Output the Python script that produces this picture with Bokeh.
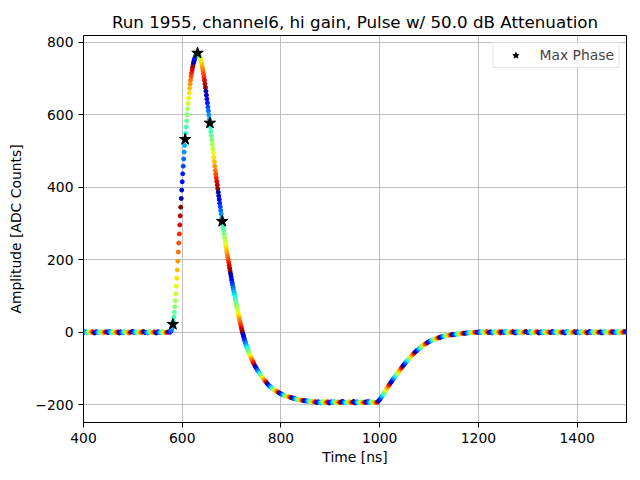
import numpy as np
from bokeh.embed import file_html
from bokeh.models import FixedTicker, Legend, LegendItem
from bokeh.plotting import figure
from bokeh.resources import INLINE

TITLE = "Run 1955, channel6, hi gain, Pulse w/ 50.0 dB Attenuation"
FONT = "DejaVu Sans"

# baseline before the pulse, 2.5 ns steps, ends at 572.5 ns
baseline_pre = [
    1, 0, -1, 2, 1, -2, 0, 1, -1, 2,
    0, -2, 1, 1, -1, 0, 2, -1, -2, 1,
    0, 1, -1, 2, 1, -2, 0, 2, -1, 0,
    1, -2, 1, 0, -1, 2, 0, -1, 1, -2,
    0, 1, 2, -1, 0, 1, -2, 1, 0, -1,
    2, 1, -1, 0, -2, 1, 2, 0, -1, 1,
    0, -2, 1, 1, -1, 0, 2, -1, 0, -1,
    0, 1,
]

# leading edge, 1 ns steps from 575 ns to the peak at 631 ns
rise_adc = [
    0, 1, 3, 6, 10, 15, 22, 31, 42, 55,
    70, 87, 106, 127, 149, 172, 196, 221, 246, 271,
    296, 321, 345, 369, 392, 415, 437, 458, 478, 497,
    515, 532, 549, 566, 583, 600, 616, 631, 646, 660,
    673, 685, 696, 706, 715, 723, 731, 738, 744, 749,
    754, 758, 762, 765, 767, 769, 770,
]

# trailing edge, 1 ns steps from 632 ns to 744 ns
fall_adc = [
    770, 769, 767, 764, 760, 755, 749, 743, 736, 729,
    721, 713, 704, 695, 685, 675, 665, 654, 643, 632,
    621, 610, 599, 588, 577, 566, 554, 542, 530, 518,
    506, 494, 482, 470, 458, 446, 436, 426, 416, 406,
    396, 386, 376, 366, 356, 346, 336, 326, 316, 306,
    297, 288, 279, 270, 261, 252, 243, 234, 225, 217,
    209, 201, 193, 185, 177, 169, 161, 153, 145, 138,
    131, 124, 117, 110, 103, 96, 89, 82, 75, 68,
    61, 54, 47, 41, 35, 29, 23, 17, 11, 5,
    0, -5, -10, -15, -20, -25, -29, -33, -37, -41,
    -45, -49, -53, -57, -60, -63, -66, -69, -72, -75,
    -78, -81, -84,
]

# everything after, 2.5 ns steps from 745 ns
undershoot_adc = [
    -87, -93, -99, -105, -110, -115, -120, -125, -130, -134,
    -138, -142, -146, -149, -152, -155, -158, -160, -162, -164,
    -166, -168, -170, -172, -173, -175, -176, -177, -178, -179,
    -180, -181, -182, -183, -184, -185, -186, -186, -187, -188,
    -188, -189, -189, -190, -190, -190, -191,
]
bottom_adc = [
    -192, -191, -193, -192, -194, -192, -193, -195, -192, -193,
    -191, -194, -193, -192, -195, -193, -192, -194, -191, -193,
    -195, -192, -193, -194, -192, -191, -194, -193, -195, -192,
    -193, -192, -194, -193, -191, -195, -193, -192, -194, -193,
    -192, -195, -193, -194, -192, -193, -191, -194, -193, -192,
    -195, -193, -194,
]
recovery_adc = [
    -193, -190, -186, -181, -176, -171, -165, -160, -154, -149,
    -144, -139, -134, -129, -124, -119, -115, -110, -106, -101,
    -97, -92, -88, -84, -80, -76, -72, -68, -64, -61,
    -57, -54, -51, -48, -45, -42, -39, -37, -34, -32,
    -30, -28, -26, -24, -23, -21, -20, -19, -17, -16,
    -15, -14, -13, -12, -11, -10, -10, -9, -8, -8,
    -7, -7, -6, -6, -5, -5, -4, -4, -4, -3,
    -3, -3, -2, -2, -2, -1, -1, -1, -1, 0,
    0, 0,
]
baseline_post = [
    0, 1, -1, 2, 0, -2, 1, 2, -1, 0,
    1, -2, 0, 2, 1, -1, 0, 2, -2, 1,
    0, -1, 2, 1, -2, 0, 1, -1, 2, 0,
    -2, 1, 0, 2, -1, 1, -2, 0, 2, 1,
    -1, 0, 2, -2, 1, 0, -1, 2, 1, -2,
    0, 1, -1, 2, 0, -2, 1, 1, -1, 0,
    2, -1, 0, 1, -2, 2, 0, -1, 1, 0,
    -2, 1, 2, 0, -1, 1, -2, 0, 2, -1,
    1, 0, -2, 2, 1, -1, 0, 1, -2, 0,
    2, -1, 1, 0, -2, 1, 2, -1, 0, 1,
    -2, 0, 1, 2, -1, 0, 1, -2, 2, 0,
    1, -1, 0, 2, -2, 1, 0, -1, 2, 1,
    0, -2,
]

# samples of the phase with the largest amplitude
max_t = [581, 606, 631, 656, 681]
max_adc = [22, 532, 770, 577, 306]

x_ticks = [400, 600, 800, 1000, 1200, 1400]
y_ticks = [-200, 0, 200, 400, 600, 800]


def jet(v):
    r = np.interp(v, [0, 0.35, 0.66, 0.89, 1], [0, 0, 1, 1, 0.5])
    g = np.interp(v, [0, 0.125, 0.375, 0.64, 0.91, 1], [0, 0, 1, 1, 0, 0])
    b = np.interp(v, [0, 0.11, 0.34, 0.65, 1], [0.5, 1, 1, 0, 0])
    return ["#%02x%02x%02x" % (int(rr * 255), int(gg * 255), int(bb * 255))
            for rr, gg, bb in zip(r, g, b)]


tail_adc = undershoot_adc + bottom_adc + recovery_adc + baseline_post
t = np.concatenate([
    575 - 2.5 * np.arange(len(baseline_pre), 0, -1),
    575 + np.arange(len(rise_adc)),
    632 + np.arange(len(fall_adc)),
    745 + 2.5 * np.arange(len(tail_adc)),
])
adc = np.array(baseline_pre + rise_adc + fall_adc + tail_adc)

# colour by sampling phase within the 25 ns clock period
phase = ((t - max_t[0]) % 25) / 25
colors = jet((0.35 + phase) % 1)

p = figure(width=640, height=480, x_range=(400, 1500), y_range=(-249, 818.5),
           output_backend="svg", toolbar_location=None,
           min_border_left=83, min_border_right=14,
           min_border_top=35, min_border_bottom=58)
p.background_fill_color = "white"
p.border_fill_color = "white"
p.outline_line_color = "black"
p.outline_line_width = 1

p.title.text = TITLE
p.title.align = "center"
p.title.text_font = FONT
p.title.text_font_size = "16.7px"
p.title.text_font_style = "normal"
p.title.text_color = "black"
p.title.standoff = 7

p.scatter(t, adc, size=4, fill_color=colors, line_color=colors)
stars = p.scatter(max_t, max_adc, marker="star", size=12,
                  fill_color="black", line_color="black")

p.xaxis.ticker = FixedTicker(ticks=x_ticks)
p.yaxis.ticker = FixedTicker(ticks=y_ticks)
p.yaxis.major_label_overrides = {-200: "\u2212200"}
p.xaxis.axis_label = "Time [ns]"
p.yaxis.axis_label = "Amplitude [ADC Counts]"
for ax in (p.xaxis, p.yaxis):
    ax.axis_label_text_font = FONT
    ax.axis_label_text_font_size = "13.9px"
    ax.axis_label_text_font_style = "normal"
    ax.axis_label_text_color = "black"
    ax.major_label_text_font = FONT
    ax.major_label_text_font_size = "13.9px"
    ax.major_label_text_color = "black"
    ax.axis_line_color = "black"
    ax.major_tick_line_color = "black"
    ax.major_tick_out = 5
    ax.major_tick_in = 0
    ax.minor_tick_line_color = None
    ax.major_label_standoff = 5
p.xaxis.axis_label_standoff = 3
p.yaxis.axis_label_standoff = 8

for g in (p.xgrid, p.ygrid):
    g.grid_line_color = "#b0b0b0"
    g.grid_line_width = 0.8
p.xgrid.ticker = FixedTicker(ticks=x_ticks)
p.ygrid.ticker = FixedTicker(ticks=y_ticks)

legend = Legend(items=[LegendItem(label="Max Phase", renderers=[stars])],
                location="top_right", margin=7, padding=4,
                glyph_width=36, glyph_height=16, label_standoff=6,
                label_text_font=FONT, label_text_font_size="13.9px",
                border_line_color="#cccccc", background_fill_alpha=0.8)
p.add_layout(legend)

open("out.html", "w").write(file_html(p, INLINE))
